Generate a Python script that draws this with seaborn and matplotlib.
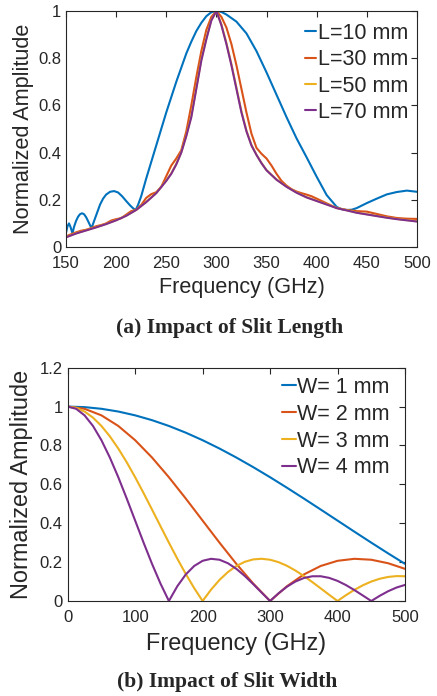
import numpy as np
import pandas as pd
import matplotlib
matplotlib.use("Agg")
import matplotlib.pyplot as plt
import seaborn as sns

# ---------------- (a) Impact of Slit Length ----------------
freq_L10 = [150, 151.5, 153, 154.5, 156.5, 158, 160, 162, 164, 166, 168, 170, 172, 174, 175.5,
            178, 181, 184, 187, 190, 194, 198, 202, 206, 210, 214, 217, 219.5, 222, 225,
            230, 235, 240, 245, 250, 255, 260, 265, 270, 275, 280, 285, 290, 295, 300,
            305, 310, 320, 330, 340, 350, 360, 370, 380, 390, 400, 410, 420, 425, 430,
            435, 440, 450, 460, 470, 480, 490, 500]
amp_L10 = [0.060, 0.088, 0.100, 0.085, 0.058, 0.085, 0.110, 0.128, 0.139, 0.143, 0.139, 0.127, 0.110, 0.092, 0.080,
           0.110, 0.145, 0.180, 0.205, 0.222, 0.234, 0.237, 0.231, 0.215, 0.195, 0.176, 0.164, 0.156, 0.180, 0.215,
           0.290, 0.360, 0.430, 0.500, 0.570, 0.635, 0.700, 0.760, 0.820, 0.870, 0.915, 0.950, 0.978, 0.995, 1.000,
           0.996, 0.985, 0.955, 0.905, 0.830, 0.740, 0.645, 0.550, 0.460, 0.380, 0.298, 0.220, 0.170, 0.160, 0.157,
           0.158, 0.165, 0.186, 0.205, 0.223, 0.233, 0.239, 0.234]

freq_L30 = [150, 155, 160, 165, 170, 175, 180, 185, 190, 195, 200, 205, 210, 215, 220, 225, 230, 235, 240, 245,
            250, 255, 260, 265, 270, 275, 280, 285, 290, 295, 300, 305, 310, 315, 320, 325, 330, 335, 340, 345,
            350, 355, 360, 365, 370, 375, 380, 385, 390, 395, 400, 410, 420, 430, 440, 450, 460, 470, 480, 490, 500]
amp_L30 = [0.045, 0.054, 0.062, 0.069, 0.073, 0.080, 0.088, 0.093, 0.100, 0.112, 0.118, 0.122, 0.137, 0.152, 0.158, 0.178, 0.208, 0.224, 0.232, 0.255,
           0.300, 0.345, 0.375, 0.410, 0.490, 0.600, 0.720, 0.830, 0.920, 0.975, 1.000, 0.975, 0.930, 0.860, 0.770, 0.670, 0.570, 0.480, 0.420, 0.395,
           0.375, 0.345, 0.310, 0.280, 0.260, 0.245, 0.235, 0.228, 0.222, 0.215, 0.205, 0.185, 0.165, 0.157, 0.152, 0.150, 0.140, 0.130, 0.123, 0.120, 0.119]

freq_L50 = [150, 160, 170, 180, 190, 200, 210, 220, 230, 240, 250, 255, 260, 265, 270, 275, 280, 285, 290, 295,
            300, 305, 310, 315, 320, 325, 330, 335, 340, 345, 350, 360, 370, 380, 390, 400, 410, 420, 430, 440,
            450, 460, 470, 480, 490, 500]
amp_L50 = [0.042, 0.058, 0.071, 0.084, 0.098, 0.114, 0.133, 0.157, 0.191, 0.229, 0.282, 0.312, 0.352, 0.402, 0.473, 0.555, 0.675, 0.795, 0.885, 0.962,
           1.000, 0.943, 0.865, 0.775, 0.675, 0.575, 0.493, 0.432, 0.391, 0.356, 0.326, 0.286, 0.256, 0.231, 0.211, 0.196, 0.181, 0.166, 0.156, 0.146,
           0.139, 0.132, 0.125, 0.119, 0.114, 0.109]

freq_L70 = [150, 160, 170, 180, 190, 200, 210, 220, 230, 240, 250, 255, 260, 265, 270, 275, 280, 285, 290, 295,
            300, 305, 310, 315, 320, 325, 330, 335, 340, 345, 350, 360, 370, 380, 390, 400, 410, 420, 430, 440,
            450, 460, 470, 480, 490, 500]
amp_L70 = [0.041, 0.057, 0.070, 0.083, 0.097, 0.113, 0.132, 0.157, 0.190, 0.228, 0.280, 0.310, 0.350, 0.400, 0.470, 0.550, 0.670, 0.790, 0.880, 0.960,
           1.000, 0.940, 0.860, 0.770, 0.670, 0.570, 0.490, 0.430, 0.390, 0.355, 0.325, 0.285, 0.255, 0.230, 0.210, 0.195, 0.180, 0.165, 0.155, 0.145,
           0.138, 0.131, 0.124, 0.118, 0.113, 0.108]

labels_a = ["L=10 mm", "L=30 mm", "L=50 mm", "L=70 mm"]
xticks_a = [150, 200, 250, 300, 350, 400, 450, 500]
yticks_a = [0, 0.2, 0.4, 0.6, 0.8, 1.0]
yticklabels_a = ["0", "0.2", "0.4", "0.6", "0.8", "1"]

# ---------------- (b) Impact of Slit Width ----------------
freq_W1 = [0, 25, 50, 75, 100, 125, 150, 175, 200, 225, 250, 275, 300, 325, 350, 375, 400, 425, 450, 475, 500]
amp_W1 = [1.0, 0.9972, 0.9886, 0.9745, 0.9549, 0.9301, 0.9003, 0.8658, 0.8270, 0.7842, 0.7379, 0.6885, 0.6366,
          0.5826, 0.5271, 0.4705, 0.4135, 0.3565, 0.3001, 0.2448, 0.1910]

freq_W2 = [0, 25, 50, 75, 100, 125, 150, 175, 200, 225, 250, 275, 300, 325, 350, 375, 400, 425, 450, 475, 500]
amp_W2 = [1.0, 0.9886, 0.9549, 0.9003, 0.8270, 0.7379, 0.6366, 0.5271, 0.4135, 0.3001, 0.1910, 0.0899, 0.0,
          0.0760, 0.1364, 0.1801, 0.2067, 0.2170, 0.2122, 0.1942, 0.1654]

freq_W3 = [0, 12.5, 25, 37.5, 50, 62.5, 75, 87.5, 100, 112.5, 125, 137.5, 150, 162.5, 175, 187.5, 200,
           212.5, 225, 237.5, 250, 262.5, 275, 287.5, 300, 312.5, 325, 337.5, 350, 362.5, 375, 387.5, 400,
           412.5, 425, 437.5, 450, 462.5, 475, 487.5, 500]
amp_W3 = [1.0, 0.9936, 0.9745, 0.9432, 0.9003, 0.8469, 0.7842, 0.7136, 0.6366, 0.5550, 0.4705, 0.3850, 0.3001,
          0.2177, 0.1392, 0.0662, 0.0, 0.0584, 0.1083, 0.1489, 0.1801, 0.2016, 0.2139, 0.2172, 0.2122, 0.1998,
          0.1810, 0.1568, 0.1286, 0.0976, 0.0650, 0.0321, 0.0, 0.0301, 0.0573, 0.0808, 0.1000, 0.1144, 0.1238,
          0.1281, 0.1273]

freq_W4 = [0, 12.5, 25, 37.5, 50, 62.5, 75, 87.5, 100, 112.5, 125, 137.5, 150, 162.5, 175, 187.5, 200,
           212.5, 225, 237.5, 250, 262.5, 275, 287.5, 300, 312.5, 325, 337.5, 350, 362.5, 375, 387.5, 400,
           412.5, 425, 437.5, 450, 462.5, 475, 487.5, 500]
amp_W4 = [1.0, 0.9886, 0.9549, 0.9003, 0.8270, 0.7379, 0.6366, 0.5271, 0.4135, 0.3001, 0.1910, 0.0899, 0.0,
          0.0760, 0.1364, 0.1801, 0.2067, 0.2170, 0.2122, 0.1942, 0.1654, 0.1286, 0.0868, 0.0430, 0.0, 0.0395,
          0.0735, 0.1000, 0.1181, 0.1272, 0.1273, 0.1190, 0.1034, 0.0818, 0.0562, 0.0282, 0.0, 0.0267, 0.0503,
          0.0693, 0.0827]

labels_b = ["W= 1 mm", "W= 2 mm", "W= 3 mm", "W= 4 mm"]
xticks_b = [0, 100, 200, 300, 400, 500]
yticks_b = [0, 0.2, 0.4, 0.6, 0.8, 1.0, 1.2]
yticklabels_b = ["0", "0.2", "0.4", "0.6", "0.8", "1", "1.2"]

colors = ["#0072BD", "#D95319", "#EDB120", "#7E2F8E"]


def to_long(freqs, amps, labels):
    frames = [pd.DataFrame({"freq": f, "amp": a, "series": lab})
              for f, a, lab in zip(freqs, amps, labels)]
    return pd.concat(frames, ignore_index=True)


sns.set_style("white")
plt.rcParams['font.family'] = ['Liberation Sans', 'DejaVu Sans']

dark = "#262626"

fig = plt.figure(figsize=(4.37, 6.96), dpi=100)
ax1 = fig.add_axes([0.151, 0.6451, 0.803, 0.3391])
ax2 = fig.add_axes([0.1549, 0.1365, 0.7719, 0.3352])

df_a = to_long([freq_L10, freq_L30, freq_L50, freq_L70],
               [amp_L10, amp_L30, amp_L50, amp_L70], labels_a)
df_b = to_long([freq_W1, freq_W2, freq_W3, freq_W4],
               [amp_W1, amp_W2, amp_W3, amp_W4], labels_b)

sns.lineplot(data=df_a, x="freq", y="amp", hue="series", hue_order=labels_a,
             palette=colors, linewidth=1.5, estimator=None, ax=ax1)
sns.lineplot(data=df_b, x="freq", y="amp", hue="series", hue_order=labels_b,
             palette=colors, linewidth=1.5, estimator=None, ax=ax2)


def style(ax, xlim, ylim, xticks, yticks, yticklabels, labsize, xlab_y, ylab_x):
    ax.set_xlim(*xlim)
    ax.set_ylim(*ylim)
    ax.set_xticks(xticks)
    ax.set_xticklabels([str(t) for t in xticks])
    ax.set_yticks(yticks)
    ax.set_yticklabels(yticklabels)
    for sp in ax.spines.values():
        sp.set_visible(True)
        sp.set_color(dark)
        sp.set_linewidth(0.8)
    ax.tick_params(direction="in", length=4, width=0.8, top=True, right=True,
                   labelsize=12, colors=dark)
    ax.tick_params(axis="x", pad=6.5)
    ax.tick_params(axis="y", pad=3.5)
    ax.set_xlabel("Frequency (GHz)", fontsize=labsize, color=dark)
    ax.set_ylabel("Normalized Amplitude", fontsize=labsize, color=dark)
    ax.xaxis.set_label_coords(0.5, xlab_y)
    ax.yaxis.set_label_coords(ylab_x, 0.5)


style(ax1, (150, 500), (0, 1), xticks_a, yticks_a, yticklabels_a, 15.6, -0.125, -0.09)
style(ax2, (0, 500), (0, 1.2), xticks_b, yticks_b, yticklabels_b, 16.9, -0.135, -0.103)

for ax, anchor, hl, ls in [(ax1, (0.975, 0.95), 0.5, 0.25), (ax2, (0.955, 0.96), 0.65, 0.27)]:
    handles, labs = ax.get_legend_handles_labels()
    ax.legend(handles, labs, loc="upper right", bbox_to_anchor=anchor, frameon=False,
              fontsize=15.5, handlelength=hl, handletextpad=0.08, labelspacing=ls,
              borderaxespad=0, borderpad=0)

fig.text(0.5263, 0.5287, "(a) Impact of Slit Length", ha="center", va="center",
         fontsize=15.5, fontweight="bold", family=["Liberation Serif", "DejaVu Serif"])
fig.text(0.5206, 0.0205, "(b) Impact of Slit Width", ha="center", va="center",
         fontsize=15.5, fontweight="bold", family=["Liberation Serif", "DejaVu Serif"])

fig.savefig("out.png", dpi=100)
